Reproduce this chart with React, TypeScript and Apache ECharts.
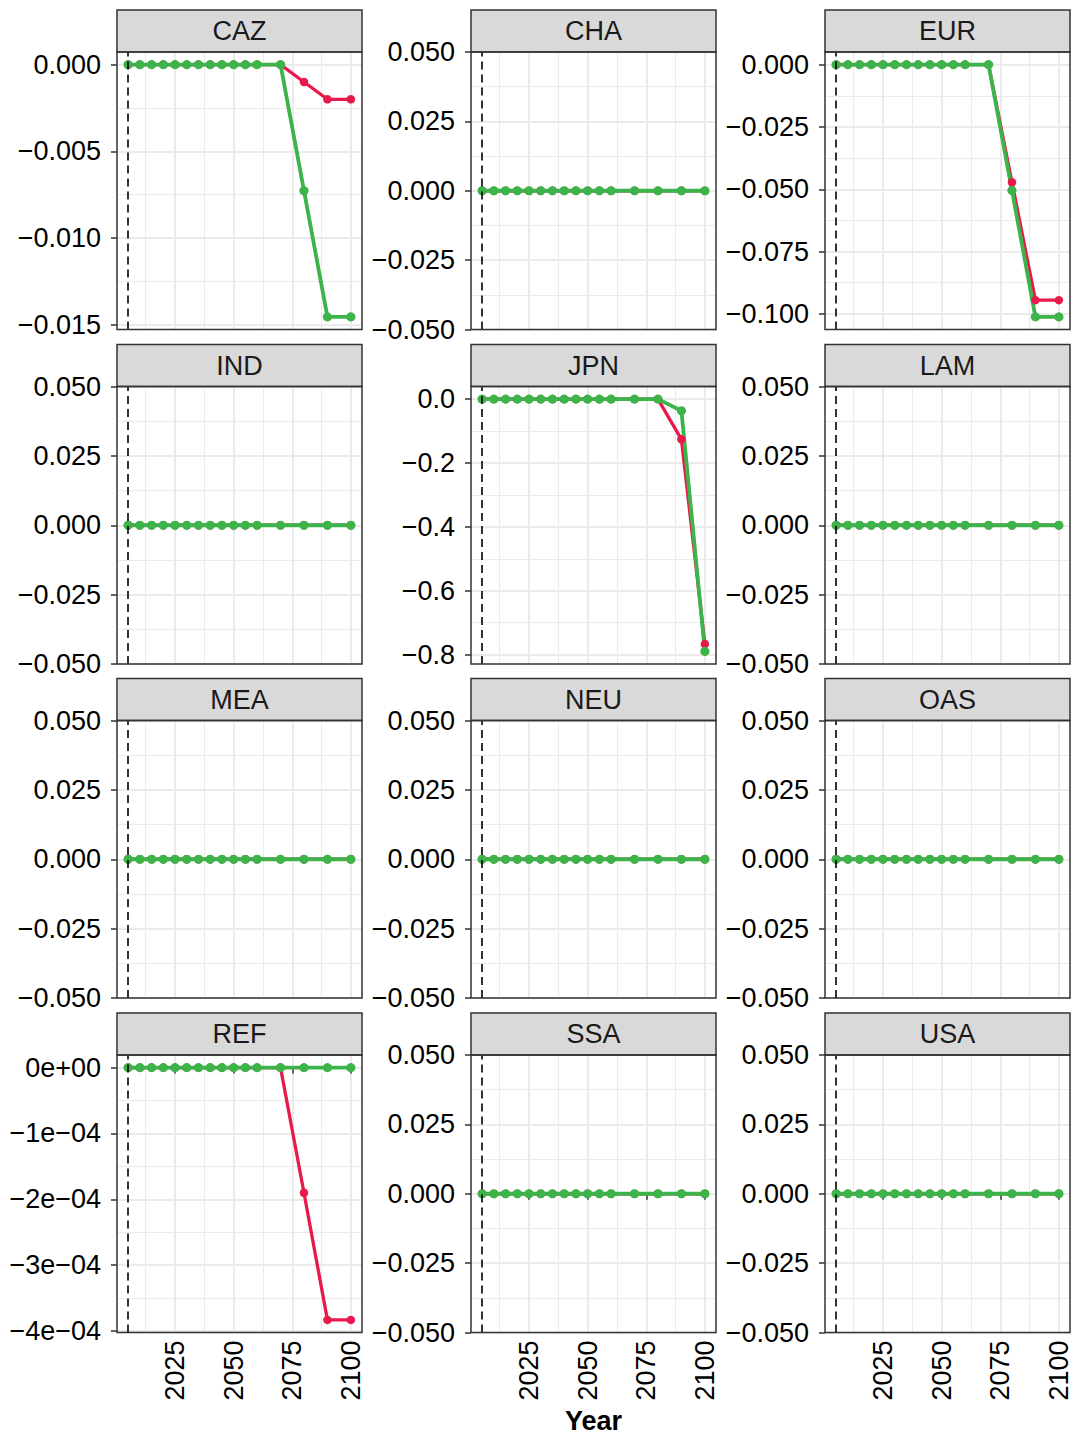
import React, { useEffect, useRef } from "react";
import * as echarts from "echarts";

// ---------------- data ----------------
const regions = ["CAZ", "CHA", "EUR", "IND", "JPN", "LAM", "MEA", "NEU", "OAS", "REF", "SSA", "USA"];
const years = [2005, 2010, 2015, 2020, 2025, 2030, 2035, 2040, 2045, 2050, 2055, 2060, 2070, 2080, 2090, 2100];
const dashedYear = 2005;
const xBreaks = [2025, 2050, 2075, 2100];
const xMinorBreaks = [2012.5, 2037.5, 2062.5, 2087.5];

const zeros = [0, 0, 0, 0, 0, 0, 0, 0, 0, 0, 0, 0, 0, 0, 0, 0];
const cazRed = [0, 0, 0, 0, 0, 0, 0, 0, 0, 0, 0, 0, 0, -0.001, -0.002, -0.002];
const cazGreen = [0, 0, 0, 0, 0, 0, 0, 0, 0, 0, 0, 0, 0, -0.00727, -0.01455, -0.01455];
const eurRed = [0, 0, 0, 0, 0, 0, 0, 0, 0, 0, 0, 0, 0, -0.0472, -0.0945, -0.0945];
const eurGreen = [0, 0, 0, 0, 0, 0, 0, 0, 0, 0, 0, 0, 0, -0.0505, -0.1012, -0.1012];
const jpnRed = [0, 0, 0, 0, 0, 0, 0, 0, 0, 0, 0, 0, 0, 0, -0.126, -0.767];
const jpnGreen = [0, 0, 0, 0, 0, 0, 0, 0, 0, 0, 0, 0, 0, 0, -0.0365, -0.79];
const refRed = [0, 0, 0, 0, 0, 0, 0, 0, 0, 0, 0, 0, 0, -0.00019, -0.000383, -0.000383];
const refGreen = [0, 0, 0, 0, 0, 0, 0, 0, 0, 0, 0, 0, 0, 0, 0, 0];

const redSeries = [cazRed, zeros, eurRed, zeros, jpnRed, zeros, zeros, zeros, zeros, refRed, zeros, zeros];
const greenSeries = [cazGreen, zeros, eurGreen, zeros, jpnGreen, zeros, zeros, zeros, zeros, refGreen, zeros, zeros];

const yBreaksCAZ = [-0.015, -0.01, -0.005, 0];
const yLabelsCAZ = ["\u22120.015", "\u22120.010", "\u22120.005", "0.000"];
const yBreaksZero = [-0.05, -0.025, 0, 0.025, 0.05];
const yLabelsZero = ["\u22120.050", "\u22120.025", "0.000", "0.025", "0.050"];
const yBreaksEUR = [-0.1, -0.075, -0.05, -0.025, 0];
const yLabelsEUR = ["\u22120.100", "\u22120.075", "\u22120.050", "\u22120.025", "0.000"];
const yBreaksJPN = [-0.8, -0.6, -0.4, -0.2, 0];
const yLabelsJPN = ["\u22120.8", "\u22120.6", "\u22120.4", "\u22120.2", "0.0"];
const yBreaksREF = [-0.0004, -0.0003, -0.0002, -0.0001, 0];
const yLabelsREF = ["\u22124e\u221204", "\u22123e\u221204", "\u22122e\u221204", "\u22121e\u221204", "0e+00"];

const yBreaksByPanel = [yBreaksCAZ, yBreaksZero, yBreaksEUR, yBreaksZero, yBreaksJPN, yBreaksZero, yBreaksZero, yBreaksZero, yBreaksZero, yBreaksREF, yBreaksZero, yBreaksZero];
const yLabelsByPanel = [yLabelsCAZ, yLabelsZero, yLabelsEUR, yLabelsZero, yLabelsJPN, yLabelsZero, yLabelsZero, yLabelsZero, yLabelsZero, yLabelsREF, yLabelsZero, yLabelsZero];

// ---------------- style / layout ----------------
const RED = "#E8194B";
const GREEN = "#3CB44A";
const FONT = "'Liberation Sans', Arial, Helvetica, sans-serif";
const colLeft = [117, 471, 825];
const rowTop = [52, 386.5, 720.5, 1055];
const panelW = 245;
const panelH = 277.5;
const stripH = 42;
const AXIS_FS = 27;

function minorsOf(breaks: number[], lo: number, hi: number): number[] {
  const out: number[] = [];
  const step = breaks[1] - breaks[0];
  for (let i = -1; i < breaks.length; i++) {
    const v = breaks[0] + step * (i + 0.5);
    if (v > lo && v < hi) out.push(v);
  }
  return out;
}

function limitsOf(a: number[], b: number[]): [number, number] {
  const all = a.concat(b);
  const mn = Math.min(...all);
  const mx = Math.max(...all);
  if (mx - mn === 0) return [mn - 0.05, mx + 0.05];
  const e = (mx - mn) * 0.05;
  return [mn - e, mx + e];
}

function buildOption() {
  const xMin = years[0] - (years[years.length - 1] - years[0]) * 0.05;
  const xMax = years[years.length - 1] + (years[years.length - 1] - years[0]) * 0.05;

  const grids: any[] = [];
  const xAxes: any[] = [];
  const yAxes: any[] = [];
  const series: any[] = [];
  const graphics: any[] = [];
  const minorX: any[] = [];
  const minorY: any[] = [];

  regions.forEach((reg, i) => {
    const col = i % 3;
    const row = Math.floor(i / 3);
    const left = colLeft[col];
    const top = rowTop[row];
    const bottomRow = row === 3;
    grids.push({ left, top, width: panelW, height: panelH, show: false });

    const [yMin, yMax] = limitsOf(redSeries[i], greenSeries[i]);
    const yb = yBreaksByPanel[i];
    const yl = yLabelsByPanel[i];

    xAxes.push({
      type: "value",
      gridIndex: i,
      min: xMin,
      max: xMax,
      position: "bottom",
      axisLine: { show: false },
      axisTick: { show: bottomRow, length: 6, customValues: xBreaks, lineStyle: { color: "#333333", width: 1.5 } },
      axisLabel: {
        show: bottomRow,
        customValues: xBreaks,
        rotate: 90,
        margin: 8,
        fontSize: AXIS_FS,
        color: "#000000",
        fontFamily: FONT,
        formatter: (v: number) => String(Math.round(v)),
      },
      splitLine: { show: true, lineStyle: { color: "#EBEBEB", width: 2 } },
    });
    minorX.push({
      type: "value",
      gridIndex: i,
      min: xMin,
      max: xMax,
      position: "bottom",
      axisLine: { show: false },
      axisTick: { show: false, customValues: xMinorBreaks },
      axisLabel: { show: false },
      splitLine: { show: true, lineStyle: { color: "#EBEBEB", width: 1 } },
    });

    yAxes.push({
      type: "value",
      gridIndex: i,
      min: yMin,
      max: yMax,
      position: "left",
      axisLine: { show: false },
      axisTick: { show: true, length: 6, customValues: yb, lineStyle: { color: "#333333", width: 1.5 } },
      axisLabel: {
        show: true,
        customValues: yb,
        margin: 16,
        fontSize: AXIS_FS,
        color: "#000000",
        fontFamily: FONT,
        formatter: (v: number) => {
          let best = 0;
          let d = Infinity;
          yb.forEach((b, k) => {
            const dd = Math.abs(b - v);
            if (dd < d) { d = dd; best = k; }
          });
          return yl[best];
        },
      },
      splitLine: { show: true, lineStyle: { color: "#EBEBEB", width: 2 } },
    });
    minorY.push({
      type: "value",
      gridIndex: i,
      min: yMin,
      max: yMax,
      position: "left",
      axisLine: { show: false },
      axisTick: { show: false, customValues: minorsOf(yb, yMin, yMax) },
      axisLabel: { show: false },
      splitLine: { show: true, lineStyle: { color: "#EBEBEB", width: 1 } },
    });

    const redData = years.map((y, k) => [y, redSeries[i][k]]);
    const greenData = years.map((y, k) => [y, greenSeries[i][k]]);

    series.push({
      type: "line",
      name: "red",
      xAxisIndex: i,
      yAxisIndex: i,
      data: redData,
      symbol: "none",
      showSymbol: false,
      lineStyle: { color: RED, width: 3.3 },
      z: 3,
    });
    series.push({
      type: "line",
      name: "green",
      xAxisIndex: i,
      yAxisIndex: i,
      data: greenData,
      symbol: "none",
      showSymbol: false,
      lineStyle: { color: GREEN, width: 3.8 },
      z: 4,
    });
    series.push({
      type: "scatter",
      name: "red",
      xAxisIndex: i,
      yAxisIndex: i,
      data: redData,
      symbolSize: 8.5,
      itemStyle: { color: RED, opacity: 1 },
      z: 5,
    });
    series.push({
      type: "scatter",
      name: "green",
      xAxisIndex: i,
      yAxisIndex: i,
      data: greenData,
      symbolSize: 9.2,
      itemStyle: { color: GREEN, opacity: 1 },
      z: 6,
      markLine: {
        silent: true,
        symbol: ["none", "none"],
        label: { show: false },
        lineStyle: { color: "#000000", type: [8, 5], width: 1.6, opacity: 1 },
        data: [{ xAxis: dashedYear }],
        z: 10,
      },
    });

    // strip
    graphics.push({
      type: "rect",
      shape: { x: left, y: top - stripH, width: panelW, height: stripH },
      style: { fill: "#D9D9D9", stroke: "#333333", lineWidth: 1.5 },
      z: 100,
    });
    graphics.push({
      type: "text",
      x: left + panelW / 2,
      y: top - stripH / 2,
      style: { text: reg, fontSize: AXIS_FS, fontFamily: FONT, fill: "#1A1A1A", align: "center", verticalAlign: "middle" },
      z: 101,
    });
    // panel border on top
    graphics.push({
      type: "rect",
      shape: { x: left, y: top, width: panelW, height: panelH },
      style: { fill: "none", stroke: "#333333", lineWidth: 1.5 },
      z: 100,
    });
  });

  graphics.push({
    type: "text",
    x: colLeft[1] + panelW / 2,
    y: 1421,
    style: { text: "Year", fontSize: 27, fontWeight: "bold", fontFamily: FONT, fill: "#000000", align: "center", verticalAlign: "middle" },
    z: 101,
  });

  return {
    animation: false,
    backgroundColor: "#FFFFFF",
    textStyle: { fontFamily: FONT },
    grid: grids,
    xAxis: xAxes.concat(minorX),
    yAxis: yAxes.concat(minorY),
    series,
    graphic: { elements: graphics },
  };
}

export default function App() {
  const ref = useRef<HTMLDivElement>(null);
  useEffect(() => {
    if (!ref.current) return;
    const chart = echarts.init(ref.current, undefined, { renderer: "svg" });
    chart.setOption(buildOption() as any);
    return () => chart.dispose();
  }, []);
  return <div ref={ref} style={{ position: "absolute", left: 0, top: 0, width: 1075, height: 1436 }} />;
}
